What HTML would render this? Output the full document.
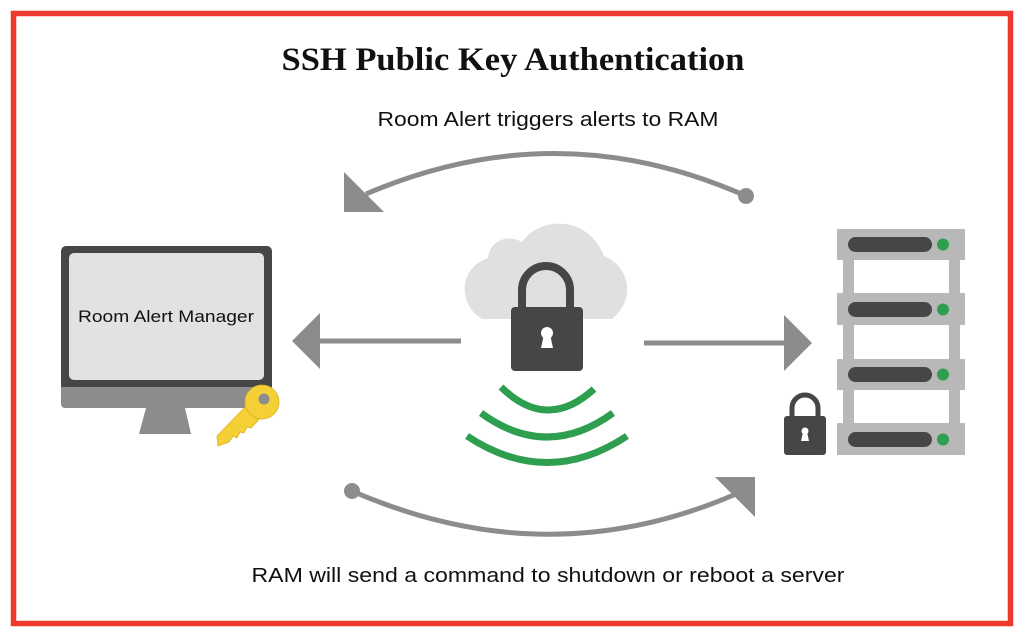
<!DOCTYPE html>
<html><head><meta charset="utf-8"><style>
html,body{margin:0;padding:0;background:#fff;}
svg{display:block;}
</style></head><body>
<svg width="1024" height="640" viewBox="0 0 1024 640" xmlns="http://www.w3.org/2000/svg">
<rect x="0" y="0" width="1024" height="640" fill="#fff"/>
<rect x="13.5" y="13.5" width="997" height="610" fill="none" stroke="#ee3a2e" stroke-width="5.5"/>
<text x="513" y="70" text-anchor="middle" font-family="Liberation Serif, serif" font-weight="bold" font-size="33" fill="#111" textLength="463" lengthAdjust="spacingAndGlyphs">SSH Public Key Authentication</text>
<text x="548" y="126" text-anchor="middle" font-family="Liberation Sans, sans-serif" font-size="20" fill="#111" textLength="341" lengthAdjust="spacingAndGlyphs">Room Alert triggers alerts to RAM</text>
<text x="548" y="582" text-anchor="middle" font-family="Liberation Sans, sans-serif" font-size="20" fill="#111" textLength="593" lengthAdjust="spacingAndGlyphs">RAM will send a command to shutdown or reboot a server</text>

<path d="M746 196 Q557 112 366 194" fill="none" stroke="#8c8c8c" stroke-width="5"/>
<circle cx="746" cy="196" r="8" fill="#8c8c8c"/>
<polygon points="344,172 344,212 384,212" fill="#8c8c8c"/>
<path d="M352 491 Q547 576 736 494" fill="none" stroke="#8c8c8c" stroke-width="5"/>
<circle cx="352" cy="491" r="8" fill="#8c8c8c"/>
<polygon points="715,477 755,477 755,517" fill="#8c8c8c"/>

<line x1="461" y1="341" x2="315" y2="341" stroke="#8c8c8c" stroke-width="5"/>
<polygon points="292,341 320,313 320,369" fill="#8c8c8c"/>
<line x1="644" y1="343" x2="790" y2="343" stroke="#8c8c8c" stroke-width="5"/>
<polygon points="812,343 784,315 784,371" fill="#8c8c8c"/>

<rect x="61" y="246" width="211" height="150" rx="5" fill="#464646"/>
<path d="M61 387 H272 V404 a4 4 0 0 1 -4 4 H65 a4 4 0 0 1 -4 -4 Z" fill="#8c8c8c"/>
<rect x="69" y="253" width="195" height="127" rx="5" fill="#e1e2e4"/>
<polygon points="146,408 185,408 191,434 139,434" fill="#8c8c8c"/>
<text x="166" y="322" text-anchor="middle" font-family="Liberation Sans, sans-serif" font-size="17" fill="#111" textLength="176" lengthAdjust="spacingAndGlyphs">Room Alert Manager</text>
<g fill="#f4cf36" stroke="#d9b020" stroke-width="0.8">
<path d="M248 404 L217 436 L218 446 L229 442 L233 436 L237 438 L240 432 L244 433 L247 427 L251 428 L264 414 Z"/>
<circle cx="262" cy="402" r="17"/>
</g>
<circle cx="264" cy="399" r="5.5" fill="#8c8c8c"/>

<path d="M482 319 C458 305 458 268 488 258 C490 240 508 234 522 242 C540 216 588 215 604 256 C630 266 636 300 612 319 Z" fill="#dfe0e2"/>
<path d="M522 310 V290 a24 24 0 0 1 48 0 V310" fill="none" stroke="#464646" stroke-width="8"/>
<rect x="511" y="307" width="72" height="64" rx="4" fill="#464646"/>
<circle cx="547" cy="333" r="6" fill="#fff"/>
<polygon points="544,334 550,334 553,348 541,348" fill="#fff"/>
<g fill="none" stroke="#2e9e4f" stroke-width="7">
<path d="M501 387 Q547 432 594 389"/>
<path d="M481 413 Q547 461 613 413"/>
<path d="M467 436 Q547 489 627 436"/>
</g>

<rect x="843" y="240" width="11" height="210" fill="#b8b8b8"/>
<rect x="949" y="240" width="11" height="210" fill="#b8b8b8"/>
<g fill="#b8b8b8">
<rect x="837" y="229" width="128" height="31"/>
<rect x="837" y="293" width="128" height="32"/>
<rect x="837" y="359" width="128" height="31"/>
<rect x="837" y="423" width="128" height="32"/>
</g>
<g fill="#464646">
<rect x="848" y="237" width="84" height="15" rx="7.5"/>
<rect x="848" y="302" width="84" height="15" rx="7.5"/>
<rect x="848" y="367" width="84" height="15" rx="7.5"/>
<rect x="848" y="432" width="84" height="15" rx="7.5"/>
</g>
<g fill="#2e9e4f">
<circle cx="943" cy="244.5" r="6"/>
<circle cx="943" cy="309.5" r="6"/>
<circle cx="943" cy="374.5" r="6"/>
<circle cx="943" cy="439.5" r="6"/>
</g>
<path d="M792 420 V408 a13 13 0 0 1 26 0 V420" fill="none" stroke="#464646" stroke-width="5"/>
<rect x="784" y="416" width="42" height="39" rx="3" fill="#464646"/>
<circle cx="805" cy="431" r="3.5" fill="#fff"/>
<polygon points="803,432 807,432 809,441 801,441" fill="#fff"/>
</svg>
</body></html>
